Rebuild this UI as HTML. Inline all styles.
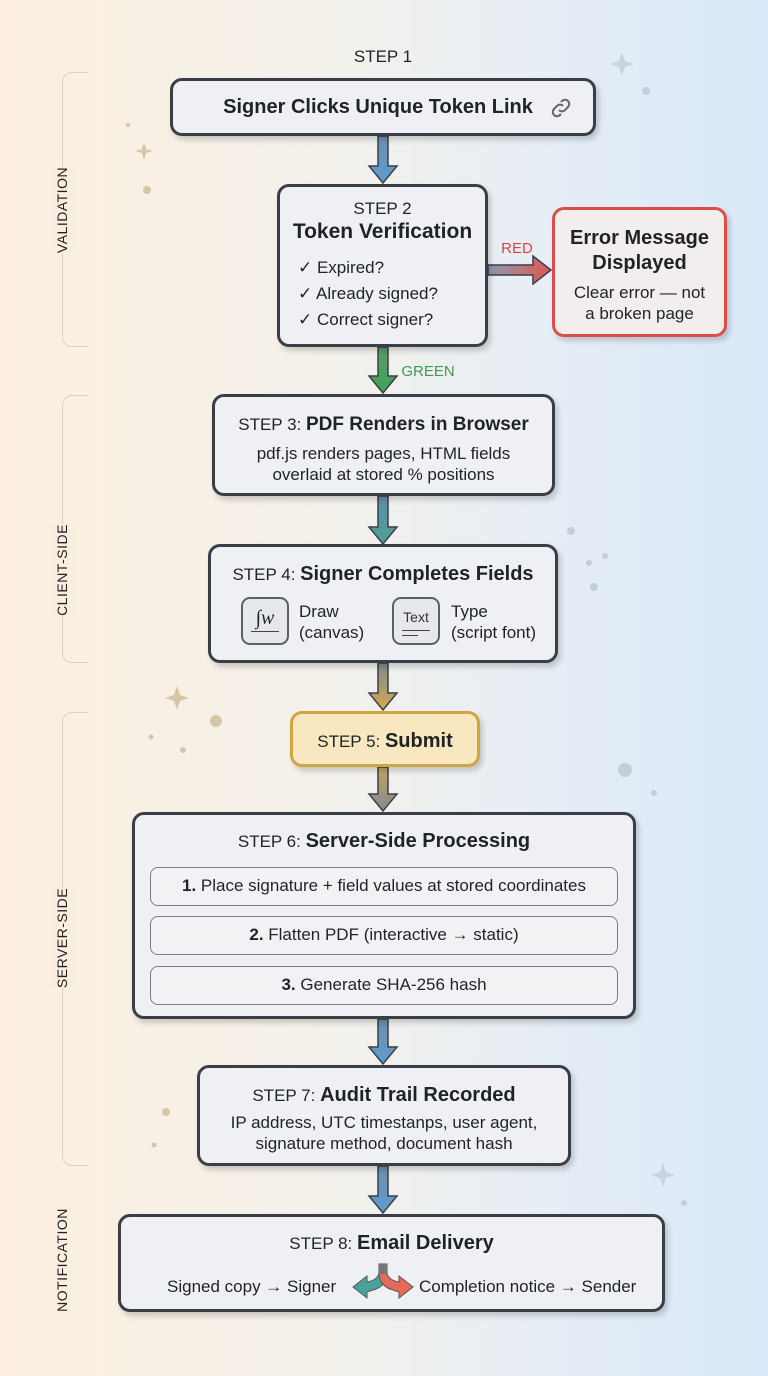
<!DOCTYPE html>
<html><head><meta charset="utf-8"><style>
*{margin:0;padding:0;box-sizing:border-box}
body{width:768px;height:1376px;position:relative;overflow:hidden;font-family:"Liberation Sans",sans-serif;color:#1f2328;
background:linear-gradient(90deg,#fcefdf 0%,#f3f1ec 45%,#e4edf7 75%,#d9e8f8 100%)}
.b{position:absolute;background:#eef0f3;border:3px solid #3a3f47;border-radius:12px;box-shadow:3px 4px 6px rgba(0,0,0,.18);text-align:center}
.t{position:absolute;left:0;right:0;text-align:center;white-space:nowrap}
.side{position:absolute;font-size:14px;letter-spacing:.5px;transform:translate(-50%,-50%) rotate(-90deg);white-space:nowrap;color:#222}
.br{position:absolute;border:1.5px solid #d6d2cb;border-right:none;border-radius:10px 0 0 10px;width:26px}
.sub{position:absolute;left:15px;right:15px;height:39px;border:1.5px solid #7a7f87;border-radius:8px;background:#f1f2f4;font-size:17px;line-height:36px;text-align:center}
.ic{position:absolute;width:48px;height:48px;border:2px solid #5b6068;border-radius:9px;background:#e6e8ec}
</style></head><body>
<!-- side labels -->
<div class="br" style="left:62px;top:72px;height:275px"></div>
<div class="br" style="left:62px;top:395px;height:268px"></div>
<div class="br" style="left:62px;top:712px;height:454px"></div>
<div class="side" style="left:62px;top:210px;background:#f9eee0;padding:4px 0">VALIDATION</div>
<div class="side" style="left:62px;top:570px;background:#f9eee0;padding:4px 0">CLIENT-SIDE</div>
<div class="side" style="left:62px;top:938px;background:#f9eee0;padding:4px 0">SERVER-SIDE</div>
<div class="side" style="left:62px;top:1260px">NOTIFICATION</div>

<svg width="768" height="1376" style="position:absolute;left:0;top:0">
<defs>
<linearGradient id="g1" x1="0" y1="0" x2="0" y2="1"><stop offset="0" stop-color="#6f8fae"/><stop offset="1" stop-color="#5d9ccf"/></linearGradient>
<linearGradient id="g2" x1="0" y1="0" x2="0" y2="1"><stop offset="0" stop-color="#5a9a6a"/><stop offset="1" stop-color="#3fa457"/></linearGradient>
<linearGradient id="g3" x1="0" y1="0" x2="0" y2="1"><stop offset="0" stop-color="#5d8fb0"/><stop offset="1" stop-color="#4da08f"/></linearGradient>
<linearGradient id="g4" x1="0" y1="0" x2="0" y2="1"><stop offset="0" stop-color="#7c8c90"/><stop offset="1" stop-color="#d3a84c"/></linearGradient>
<linearGradient id="g5" x1="0" y1="0" x2="0" y2="1"><stop offset="0" stop-color="#c5a459"/><stop offset="1" stop-color="#7f8b98"/></linearGradient>
<linearGradient id="gr" x1="0" y1="0" x2="1" y2="0"><stop offset="0" stop-color="#8a9bb0"/><stop offset="1" stop-color="#e0584e"/></linearGradient>
</defs>
<g stroke="#3a3f47" stroke-width="1.5">
<path d="M378 136h10v30h9l-14 17l-14-17h9z" fill="url(#g1)"/>
<path d="M378 347h10v29h9l-14 17l-14-17h9z" fill="url(#g2)"/>
<path d="M378 496h10v31h9l-14 17l-14-17h9z" fill="url(#g3)"/>
<path d="M378 663h10v30h9l-14 17l-14-17h9z" fill="url(#g4)"/>
<path d="M378 767h10v27h9l-14 17l-14-17h9z" fill="url(#g5)"/>
<path d="M378 1019h10v28h9l-14 17l-14-17h9z" fill="url(#g1)"/>
<path d="M378 1166h10v30h9l-14 17l-14-17h9z" fill="url(#g1)"/>
<path d="M488 265h45v-9l18 14l-18 14v-9h-45z" fill="url(#gr)"/>
</g>
<text x="517" y="253" font-size="15" fill="#d9453d" text-anchor="middle" font-family="Liberation Sans">RED</text>
<text x="428" y="376" font-size="15" fill="#3d9a52" text-anchor="middle" font-family="Liberation Sans">GREEN</text>
<g fill="#d6c6a8"><path d="M622 52l3 9 9 3-9 3-3 9-3-9-9-3 9-3z" fill="#c9d3e0"/><path d="M144 142l2 7 7 2-7 2-2 7-2-7-7-2 7-2z"/><path d="M177 686l3 9 9 3-9 3-3 9-3-9-9-3 9-3z"/><path d="M663 1163l3 9 9 3-9 3-3 9-3-9-9-3 9-3z" fill="#c9d3e0"/>
<circle cx="147" cy="190" r="4"/><circle cx="128" cy="125" r="2"/><circle cx="216" cy="721" r="6"/><circle cx="151" cy="737" r="2.5"/><circle cx="183" cy="750" r="3"/><circle cx="166" cy="1112" r="4"/><circle cx="154" cy="1145" r="2.5"/></g>
<g fill="#c3cedb"><circle cx="646" cy="91" r="4"/><circle cx="571" cy="531" r="4"/><circle cx="589" cy="563" r="3"/><circle cx="605" cy="556" r="3"/><circle cx="594" cy="587" r="4"/><circle cx="625" cy="770" r="7"/><circle cx="654" cy="793" r="3"/><circle cx="684" cy="1203" r="3"/></g>
</svg>

<div class="t" style="top:47px;font-size:17px;left:-2px">STEP 1</div>
<div class="b" style="left:170px;top:78px;width:426px;height:58px">
<div class="t" style="top:15px;font-size:20px;font-weight:bold;left:-10px">Signer Clicks Unique Token Link</div>
<svg style="position:absolute;right:20px;top:15px" width="24" height="24" viewBox="0 0 24 24" fill="none" stroke="#666" stroke-width="2"><path d="M10 14a4 4 0 0 0 6 0l3-3a4 4 0 0 0-6-6l-1 1"/><path d="M14 10a4 4 0 0 0-6 0l-3 3a4 4 0 0 0 6 6l1-1"/></svg></div>

<div class="b" style="left:277px;top:184px;width:211px;height:163px">
<div class="t" style="top:12px;font-size:17px">STEP 2</div>
<div class="t" style="top:33px;font-size:21px;font-weight:bold">Token Verification</div>
<div style="position:absolute;left:18px;top:68px;font-size:17px;line-height:26px;text-align:left">✓ Expired?<br>✓ Already signed?<br>✓ Correct signer?</div></div>

<div class="b" style="left:552px;top:207px;width:175px;height:130px;border-color:#d9504a;background:#f2eeee">
<div class="t" style="top:16px;font-size:20px;font-weight:bold;line-height:25px">Error Message<br>Displayed</div>
<div class="t" style="top:72px;font-size:17px;line-height:21px">Clear error — not<br>a broken page</div></div>

<div class="b" style="left:212px;top:394px;width:343px;height:102px">
<div class="t" style="top:17px;font-size:19px"><span style="font-size:17px">STEP 3: </span><b>PDF Renders in Browser</b></div>
<div class="t" style="top:46px;font-size:17px;line-height:21px">pdf.js renders pages, HTML fields<br>overlaid at stored % positions</div></div>

<div class="b" style="left:208px;top:544px;width:350px;height:119px">
<div class="t" style="top:16px;font-size:20px"><span style="font-size:17px">STEP 4: </span><b>Signer Completes Fields</b></div>
<div class="ic" style="left:30px;top:50px"><div style="font-family:'Liberation Serif',serif;font-style:italic;font-size:20px;margin-top:8px">&#x222B;w</div><div style="position:absolute;left:8px;right:8px;top:32px;border-top:1.5px solid #444"></div></div>
<div style="position:absolute;left:88px;top:54px;font-size:17px;line-height:21px;text-align:left">Draw<br>(canvas)</div>
<div class="ic" style="left:181px;top:50px"><div style="font-size:14px;margin-top:10px;color:#333">Text</div><div style="position:absolute;left:8px;right:8px;top:31px;border-top:1.5px solid #444"></div><div style="position:absolute;left:8px;width:16px;top:36px;border-top:1.5px solid #444"></div></div>
<div style="position:absolute;left:240px;top:54px;font-size:17px;line-height:21px;text-align:left">Type<br>(script font)</div></div>

<div class="b" style="left:290px;top:711px;width:190px;height:56px;background:#f8e7bf;border-color:#cfa544">
<div class="t" style="top:16px;font-size:20px"><span style="font-size:17px">STEP 5: </span><b>Submit</b></div></div>

<div class="b" style="left:132px;top:812px;width:504px;height:207px">
<div class="t" style="top:15px;font-size:20px"><span style="font-size:17px">STEP 6: </span><b>Server-Side Processing</b></div>
<div class="sub" style="top:52px"><b>1.</b> Place signature + field values at stored coordinates</div>
<div class="sub" style="top:101px"><b>2.</b> Flatten PDF (interactive → static)</div>
<div class="sub" style="top:151px"><b>3.</b> Generate SHA-256 hash</div></div>

<div class="b" style="left:197px;top:1065px;width:374px;height:101px">
<div class="t" style="top:16px;font-size:20px"><span style="font-size:17px">STEP 7: </span><b>Audit Trail Recorded</b></div>
<div class="t" style="top:44px;font-size:17px;line-height:21px">IP address, UTC timestanps, user agent,<br>signature method, document hash</div></div>

<div class="b" style="left:118px;top:1214px;width:547px;height:98px">
<div class="t" style="top:15px;font-size:20px"><span style="font-size:17px">STEP 8: </span><b>Email Delivery</b></div>
<div style="position:absolute;left:46px;top:60px;font-size:17px">Signed copy → Signer</div>
<svg style="position:absolute;left:228px;top:45px" width="68" height="40" viewBox="0 0 68 40"><path d="M30 2h8v10c0 8-6 14-14 16l-6 2v6l-14-11 14-11v6c6-1 12-4 12-10z" fill="#4aa39a" stroke="#555" stroke-width="1"/><path d="M38 2h-8v10c0 8 6 14 14 16l6 2v6l14-11-14-11v6c-6-1-12-4-12-10z" fill="#e56a5a" stroke="#555" stroke-width="1"/><rect x="30" y="2" width="8" height="10" fill="#777"/></svg>
<div style="position:absolute;left:298px;top:60px;font-size:17px">Completion notice → Sender</div></div>
</body></html>
